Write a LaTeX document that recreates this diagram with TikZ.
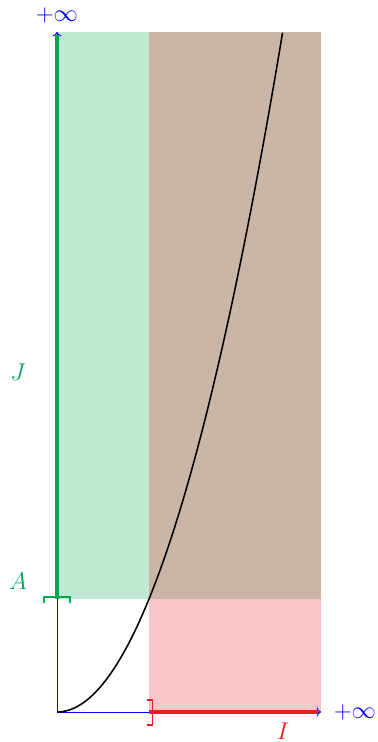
\documentclass[tikz,border=0pt]{standalone}
\usepackage{amsmath}
\usepackage{xcolor}
\definecolor{SetGreen}{RGB}{0,166,81}
\definecolor{SetRed}{RGB}{237,28,36}
\usetikzlibrary{calc, positioning, arrows.meta}

\begin{document}
\begin{tikzpicture}[
    x=2.3cm, y=2.825cm,
    axis_line/.style={->, blue, line width=0.7pt},
    set_label/.style={font=\LARGE, inner sep=0pt},
    inf_label/.style={text=blue, font=\LARGE, inner sep=0pt},
    band_fill/.style={opacity=0.25},
    interval_line/.style={line width=2.4pt},
    bracket_line/.style={line width=1.4pt}
]
    \useasboundingbox (-0.6196,-0.2655) rectangle (3.489,6.301);

    % 1. KEY POINTS
    \coordinate (O) at (0,0);
    \coordinate (xend) at (2.87,0);
    \coordinate (yend) at (0,6.018);
    \coordinate (a) at (1,0);
    \coordinate (fa) at (0,1);

    % 2. SHADED BANDS
    \fill[SetGreen, band_fill] (fa) rectangle (2.87,6.018);
    \fill[SetRed, band_fill] (a) rectangle (2.87,6.018);

    % 3. AXES
    \draw[axis_line] (O) -- (xend);
    \draw[axis_line] (O) -- (yend);

    % 4. INTERVALS ON THE AXES
    \draw[SetRed, interval_line] (a) -- (2.84,0);
    \draw[SetGreen, interval_line] (fa) -- (0,5.99);

    % 5. THE CURVE
    \draw[line width=1.1pt, domain=0:2.453, samples=80] plot (\x, {\x*\x});

    % 6. BRACKETS
    \draw[SetGreen, bracket_line] (-0.141,0.965) -- (-0.141,1.018) -- (0.141,1.018) -- (0.141,0.965);
    \draw[SetRed, bracket_line] (0.978,0.106) -- (1.038,0.106) -- (1.038,-0.115) -- (0.978,-0.115);

    % 7. LABELS
    \node[inf_label] (yinf) at (0,6.165) {$+\infty$};
    \node[inf_label] (xinf) at (3.239,0) {$+\infty$};
    \node[set_label, text=SetRed] (I) at (2.457,-0.168) {$I$};
    \node[set_label, text=SetGreen] (J) at (-0.424,3.009) {$J$};
    \node[set_label, text=SetGreen] (A) at (-0.424,1.159) {$A$};

\end{tikzpicture}
\end{document}
